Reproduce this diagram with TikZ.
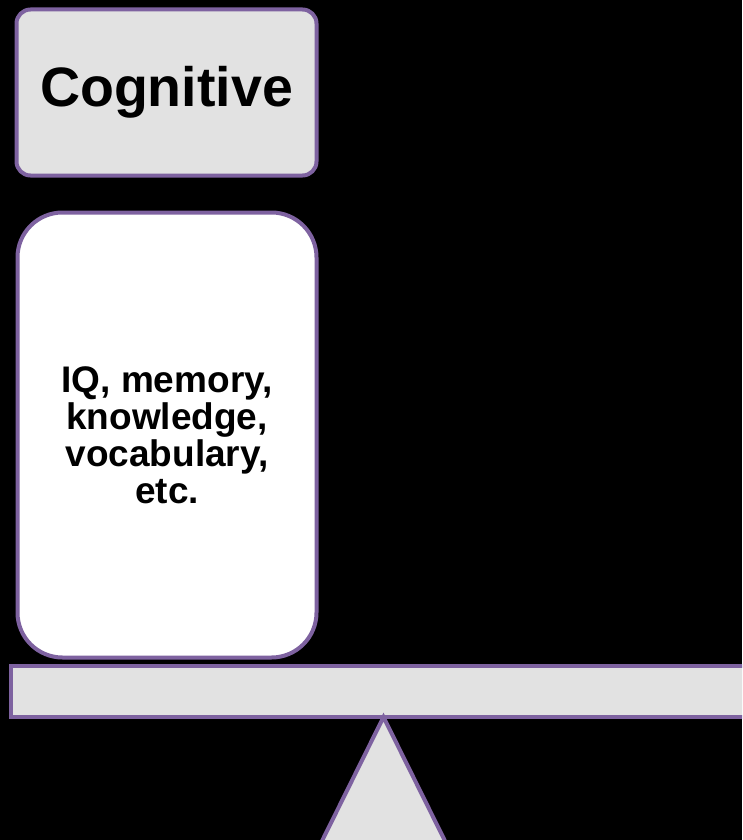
\documentclass[tikz,border=0pt]{standalone}
\usepackage{fontspec}
\setmainfont{Liberation Sans}
\definecolor{edgepurple}{RGB}{126,98,160}
\definecolor{patgray}{RGB}{226,226,226}
\begin{document}
\begin{tikzpicture}[x=1pt,y=-1pt,
  box/.style={draw=edgepurple,line width=4pt,align=center,font=\bfseries,inner sep=0pt},
  shaded/.style={fill=patgray}]
\fill[black] (0,0) rectangle (742,840);
\useasboundingbox (0,0) rectangle (742,840);
\begin{scope}
\clip (0,0) rectangle (742,840);
\node[box,shaded,rounded corners=14pt,minimum width=300pt,minimum height=166pt,
  font=\bfseries\fontsize{55.5}{60}\selectfont] (cog) at (166.5,92.5) {Cognitive};
\node[box,fill=white,rounded corners=45pt,minimum width=299pt,minimum height=445pt,
  font=\bfseries\fontsize{37}{37}\selectfont] (detail) at (167,435)
  {IQ, memory,\\knowledge,\\vocabulary,\\etc.};
\node[box,shaded,rectangle,minimum width=780pt,minimum height=51pt,anchor=north west] (beam) at (9,664) {};
\coordinate (apex) at (383.5,717);
\draw[edgepurple,line width=4pt,line join=miter,fill=patgray]
  (apex) -- (321,843) -- (446,843) -- cycle;
\end{scope}
\end{tikzpicture}
\end{document}
